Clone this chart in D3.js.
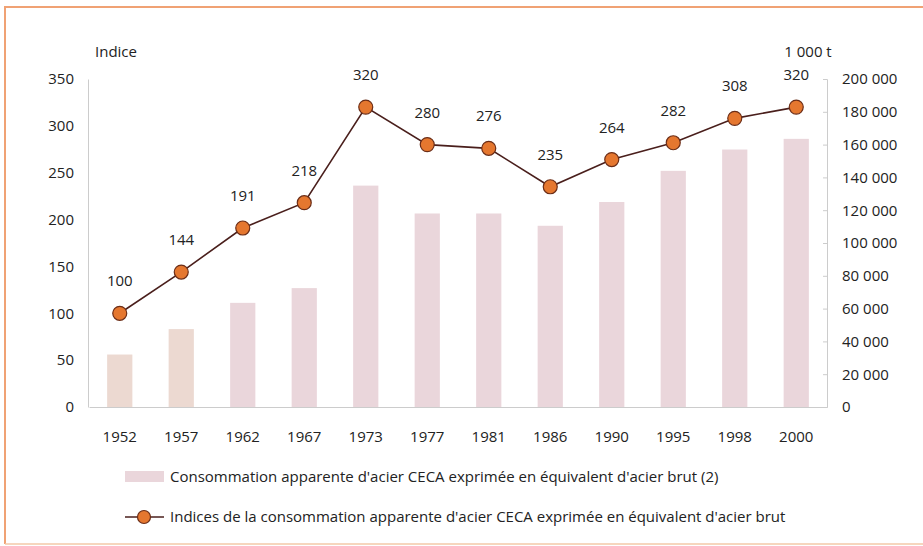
<!DOCTYPE html>
<html><head><meta charset="utf-8">
<script src="https://cdn.jsdelivr.net/npm/d3@7"></script>
<style>body{margin:0;background:#fff}svg{display:block}text{font-family:"Open Sans",sans-serif;fill:#222}</style>
</head><body><svg id="c" width="923" height="546"></svg>
<script>
const years = ["1952","1957","1962","1967","1973","1977","1981","1986","1990","1995","1998","2000"];
const consumption = [32000,47500,63500,72500,135000,118000,118000,110500,125000,144000,157000,163500];
const indices = [100,144,191,218,320,280,276,235,264,282,308,320];
const leftTicks = [0,50,100,150,200,250,300,350];
const rightTicks = [0,20000,40000,60000,80000,100000,120000,140000,160000,180000,200000];
const legendBars = "Consommation apparente d'acier CECA exprimée en équivalent d'acier brut (2)";
const legendLine = "Indices de la consommation apparente d'acier CECA exprimée en équivalent d'acier brut";

const FS = "15px";
const svg = d3.select("#c");
// frame
svg.append("path").attr("d","M5,544 L5,7 L923,7").attr("fill","none").attr("stroke","#f0a274").attr("stroke-width",2);
svg.append("line").attr("x1",5).attr("x2",923).attr("y1",544).attr("y2",544).attr("stroke","#f3c9a8").attr("stroke-width",1.5);

const x = d3.scaleBand().domain(years).range([89,827]).paddingInner(0.59).paddingOuter(0.295);
const yL = d3.scaleLinear().domain([0,350]).range([407,79]);
const yR = d3.scaleLinear().domain([0,200000]).range([407,79]);
const fmt = v => d3.format(",")(v).replace(/,/g," ");

// axes
const gL = svg.append("g").attr("transform","translate(88,0)").call(d3.axisLeft(yL).tickValues(leftTicks).tickSize(0).tickPadding(14));
gL.select(".domain").attr("stroke","#ccc");
gL.selectAll("text").style("font-size",FS).attr("fill","#222");
const gR = svg.append("g").attr("transform","translate(827,0)").call(d3.axisRight(yR).tickValues(rightTicks).tickSize(-4).tickPadding(15).tickFormat(fmt));
gR.select(".domain").attr("stroke","#ccc");
gR.selectAll("line").attr("stroke","#ccc");
gR.selectAll("text").style("font-size",FS).attr("fill","#222");
const gX = svg.append("g").attr("transform","translate(0,407)").call(d3.axisBottom(x).tickSize(0).tickPadding(24));
gX.select(".domain").attr("stroke","#ccc");
gX.selectAll("text").style("font-size",FS).attr("fill","#222");

// bars
svg.append("g").selectAll("rect").data(years).join("rect")
  .attr("x",d=>x(d)).attr("width",x.bandwidth())
  .attr("y",(d,i)=>yR(consumption[i])).attr("height",(d,i)=>yR(0)-yR(consumption[i]))
  .attr("fill",(d,i)=> i<2 ? "#ecd9d1" : "#ead6db");

// line
const cx = d => x(d)+x.bandwidth()/2;
svg.append("path").datum(years).attr("fill","none").attr("stroke","#4a1f1c").attr("stroke-width",1.6)
  .attr("d",d3.line().x(d=>cx(d)).y((d,i)=>yL(indices[i])));
svg.append("g").selectAll("circle").data(years).join("circle")
  .attr("cx",d=>cx(d)).attr("cy",(d,i)=>yL(indices[i])).attr("r",7)
  .attr("fill","#e5772f").attr("stroke","#6b2d17").attr("stroke-width",1.2);
svg.append("g").selectAll("text").data(years).join("text")
  .attr("x",d=>cx(d)).attr("y",(d,i)=>yL(indices[i])-27).attr("text-anchor","middle")
  .style("font-size",FS).text((d,i)=>indices[i]);

// axis titles
svg.append("text").attr("x",95).attr("y",57).style("font-size",FS).text("Indice");
svg.append("text").attr("x",808).attr("y",57).attr("text-anchor","middle").style("font-size",FS).text("1 000 t");

// legend
svg.append("rect").attr("x",125).attr("y",471).attr("width",39).attr("height",11).attr("fill","#ead6db");
svg.append("text").attr("x",170).attr("y",482).style("font-size",FS).text(legendBars);
svg.append("line").attr("x1",125).attr("x2",164).attr("y1",517).attr("y2",517).attr("stroke","#4a1f1c").attr("stroke-width",1.6);
svg.append("circle").attr("cx",144).attr("cy",517).attr("r",6.5).attr("fill","#e5772f").attr("stroke","#6b2d17").attr("stroke-width",1.2);
svg.append("text").attr("x",170).attr("y",522).style("font-size",FS).text(legendLine);
</script></body></html>
